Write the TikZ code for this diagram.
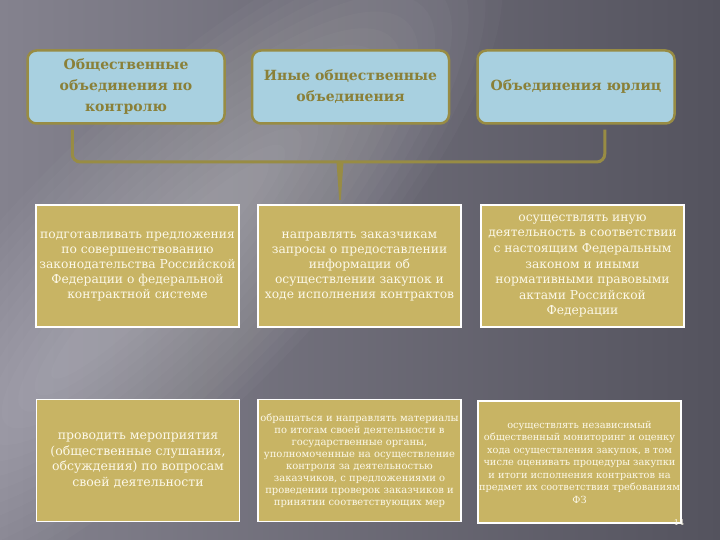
\documentclass[tikz,border=0pt]{standalone}
\usepackage{fontspec}
\setmainfont{DejaVu Serif}
\usetikzlibrary{calc}

\definecolor{bgdark}{RGB}{84,83,94}
\definecolor{bglight}{RGB}{132,130,142}
\definecolor{boxblue}{RGB}{168,208,224}
\definecolor{olive}{RGB}{152,140,68}
\definecolor{olivetext}{RGB}{138,128,56}
\definecolor{gold}{RGB}{200,180,100}
\definecolor{cream}{RGB}{252,248,232}

\tikzset{
  topbox/.style={draw=olive, line width=2.5pt, fill=boxblue, rounded corners=9pt,
    minimum width=197pt, minimum height=73pt, inner sep=0pt, align=center,
    text=olivetext, font=\fontsize{14}{21}\selectfont\bfseries},
  goldbox/.style={draw=white, line width=1.8pt, fill=gold,
    minimum width=203pt, minimum height=122pt, inner sep=0pt, align=center, text=cream},
  bracket/.style={draw=olive, line width=3pt, rounded corners=8pt},
}

\begin{document}
\begin{tikzpicture}[x=1pt, y=-1pt]

% background
\useasboundingbox (0,0) rectangle (720,540);
\shade[left color=bglight, right color=bgdark] (0,0) rectangle (720,540);
\begin{scope}
\clip (0,0) rectangle (720,540);
\foreach \i in {0,...,14}
  \fill[white, opacity=0.025, rotate around={45:(160,270)}]
    (160,270) ellipse ({460-22*\i} and {150-9*\i});
\end{scope}

% top row
\node[topbox] (obkontr) at (126,87) {Общественные\\объединения по\\контролю};
\node[topbox] (obinye) at (350.5,87) {Иные общественные\\объединения};
\node[topbox] (obyur) at (576,87) {Объединения юрлиц};

% bracket
\coordinate (brL) at ([shift={(46,5)}]obkontr.south west);
\coordinate (brR) at ([shift={(-71,5)}]obyur.south east);
\coordinate (brM) at (340,162);
\coordinate (stem) at (340,200);
\draw[bracket] (brL) |- (brM) -| (brR);
\fill[olive] ([xshift=-3.5]brM) -- ([xshift=3.5]brM) -- ([xshift=0.8]stem) -- ([xshift=-0.8]stem) -- cycle;

% middle row
\node[goldbox, font=\fontsize{12.3}{15}\selectfont] (predl) at (137.5,266)
  {подготавливать предложения\\по совершенствованию\\законодательства Российской\\Федерации о федеральной\\контрактной системе};
\node[goldbox, font=\fontsize{12.3}{15}\selectfont] (zapros) at (359.5,266)
  {направлять заказчикам\\запросы о предоставлении\\информации об\\осуществлении закупок и\\ходе исполнения контрактов};
\node[goldbox, font=\fontsize{12.3}{15.6}\selectfont] (inaya) at (582.5,266)
  {осуществлять иную\\деятельность в соответствии\\с настоящим Федеральным\\законом и иными\\нормативными правовыми\\актами Российской\\Федерации};

% bottom row
\node[goldbox, font=\fontsize{12.5}{15.7}\selectfont] (merop) at (138,460.5)
  {проводить мероприятия\\(общественные слушания,\\обсуждения) по вопросам\\своей деятельности};
\node[goldbox, font=\fontsize{10}{12}\selectfont] (obrash) at (359.5,460.5)
  {обращаться и направлять материалы\\по итогам своей деятельности в\\государственные органы,\\уполномоченные на осуществление\\контроля за деятельностью\\заказчиков, с предложениями о\\проведении проверок заказчиков и\\принятии соответствующих мер};
\node[goldbox, font=\fontsize{9.8}{12.5}\selectfont] (monit) at (579.5,462)
  {осуществлять независимый\\общественный мониторинг и оценку\\хода осуществления закупок, в том\\числе оценивать процедуры закупки\\и итоги исполнения контрактов на\\предмет их соответствия требованиям\\ФЗ};

\node[text=cream, font=\fontsize{8}{9}\selectfont] (pagenum) at (679,523) {14};

\end{tikzpicture}
\end{document}
